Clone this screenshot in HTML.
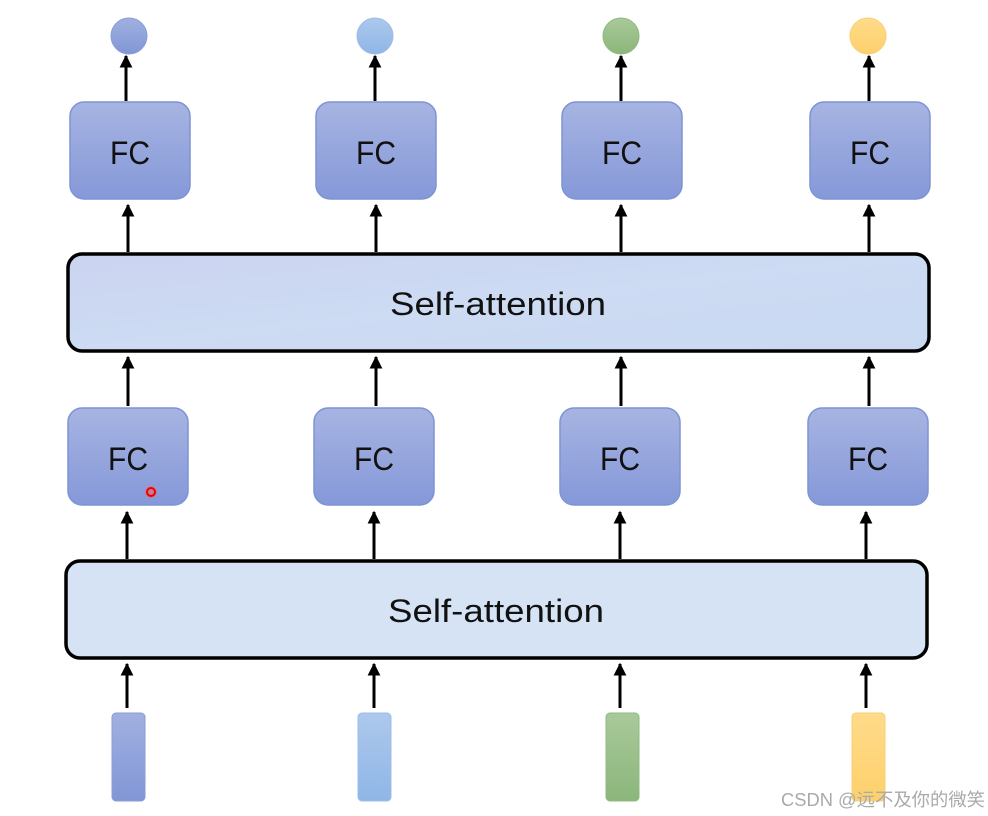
<!DOCTYPE html>
<html><head><meta charset="utf-8"><style>
html,body{margin:0;padding:0;background:#fff;width:988px;height:816px;overflow:hidden}
</style></head><body>
<svg width="988" height="816" viewBox="0 0 988 816" xmlns="http://www.w3.org/2000/svg">
<defs>
<linearGradient id="fc" x1="0" y1="0" x2="0" y2="1"><stop offset="0" stop-color="#a7b4e2"/><stop offset="1" stop-color="#8598d8"/></linearGradient>
<linearGradient id="sa1" x1="0" y1="0" x2="1" y2="1"><stop offset="0" stop-color="#cbd3f0"/><stop offset="0.5" stop-color="#cddbf3"/><stop offset="1" stop-color="#c8d9f1"/></linearGradient>
<linearGradient id="c1" x1="0" y1="0" x2="0" y2="1"><stop offset="0" stop-color="#a1b0e0"/><stop offset="1" stop-color="#8196d6"/></linearGradient>
<linearGradient id="c2" x1="0" y1="0" x2="0" y2="1"><stop offset="0" stop-color="#adc8ec"/><stop offset="1" stop-color="#8fb6e6"/></linearGradient>
<linearGradient id="c3" x1="0" y1="0" x2="0" y2="1"><stop offset="0" stop-color="#a9c99a"/><stop offset="1" stop-color="#8bb67b"/></linearGradient>
<linearGradient id="c4" x1="0" y1="0" x2="0" y2="1"><stop offset="0" stop-color="#ffdb8a"/><stop offset="1" stop-color="#fdd06c"/></linearGradient>
<marker id="ar" viewBox="0 0 10 10" refX="9" refY="5" markerWidth="4.3" markerHeight="4.3" orient="auto"><path d="M0,0 L10,5 L0,10 z" fill="#000"/></marker>
</defs>
<g stroke="#000" stroke-width="3" marker-end="url(#ar)">
<line x1="126" y1="101" x2="126" y2="56"/><line x1="375" y1="101" x2="375" y2="56"/><line x1="621" y1="101" x2="621" y2="56"/><line x1="869" y1="101" x2="869" y2="56"/>
<line x1="128" y1="252" x2="128" y2="205"/><line x1="376" y1="252" x2="376" y2="205"/><line x1="621" y1="252" x2="621" y2="205"/><line x1="869" y1="252" x2="869" y2="205"/>
<line x1="128" y1="406" x2="128" y2="357"/><line x1="376" y1="406" x2="376" y2="357"/><line x1="621" y1="406" x2="621" y2="357"/><line x1="869" y1="406" x2="869" y2="357"/>
<line x1="127" y1="559" x2="127" y2="512"/><line x1="374" y1="559" x2="374" y2="512"/><line x1="620" y1="559" x2="620" y2="512"/><line x1="866" y1="559" x2="866" y2="512"/>
<line x1="127" y1="708" x2="127" y2="664"/><line x1="374" y1="708" x2="374" y2="664"/><line x1="620" y1="708" x2="620" y2="664"/><line x1="866" y1="708" x2="866" y2="664"/>
</g>
<circle cx="129" cy="36" r="18" fill="url(#c1)" stroke="#8a9dd8"/>
<circle cx="375" cy="36" r="18" fill="url(#c2)" stroke="#9dbde8"/>
<circle cx="621" cy="36" r="18" fill="url(#c3)" stroke="#8fb980"/>
<circle cx="868" cy="36" r="18" fill="url(#c4)" stroke="#f9cf70"/>
<g fill="url(#fc)" stroke="#7d93d4" stroke-width="1.5">
<rect x="70" y="102" width="120" height="97" rx="14"/><rect x="316" y="102" width="120" height="97" rx="14"/><rect x="562" y="102" width="120" height="97" rx="14"/><rect x="810" y="102" width="120" height="97" rx="14"/>
<rect x="68" y="408" width="120" height="97" rx="14"/><rect x="314" y="408" width="120" height="97" rx="14"/><rect x="560" y="408" width="120" height="97" rx="14"/><rect x="808" y="408" width="120" height="97" rx="14"/>
</g>
<g font-family="Liberation Sans, sans-serif" font-size="32" fill="#111" text-anchor="middle">
<text x="130" y="164" textLength="40" lengthAdjust="spacingAndGlyphs">FC</text><text x="376" y="164" textLength="40" lengthAdjust="spacingAndGlyphs">FC</text><text x="622" y="164" textLength="40" lengthAdjust="spacingAndGlyphs">FC</text><text x="870" y="164" textLength="40" lengthAdjust="spacingAndGlyphs">FC</text>
<text x="128" y="470" textLength="40" lengthAdjust="spacingAndGlyphs">FC</text><text x="374" y="470" textLength="40" lengthAdjust="spacingAndGlyphs">FC</text><text x="620" y="470" textLength="40" lengthAdjust="spacingAndGlyphs">FC</text><text x="868" y="470" textLength="40" lengthAdjust="spacingAndGlyphs">FC</text>
</g>
<circle cx="151" cy="492" r="6" fill="#ff6060" opacity="0.5"/><circle cx="151" cy="492" r="4" fill="none" stroke="#e00" stroke-width="2"/>
<rect x="68" y="254" width="861" height="97" rx="14" fill="url(#sa1)" stroke="#000" stroke-width="3.5"/>
<rect x="66" y="561" width="861" height="97" rx="14" fill="#d5e3f5" stroke="#000" stroke-width="3.5"/>
<g font-family="Liberation Sans, sans-serif" font-size="32" fill="#111" text-anchor="middle">
<text x="498" y="315" textLength="216" lengthAdjust="spacingAndGlyphs">Self-attention</text>
<text x="496" y="622" textLength="216" lengthAdjust="spacingAndGlyphs">Self-attention</text>
</g>
<rect x="112" y="713" width="33" height="88" rx="4" fill="url(#c1)" stroke="#8a9dd8"/>
<rect x="358" y="713" width="33" height="88" rx="4" fill="url(#c2)" stroke="#9dbde8"/>
<rect x="606" y="713" width="33" height="88" rx="4" fill="url(#c3)" stroke="#8fb980"/>
<rect x="852" y="713" width="33" height="88" rx="4" fill="url(#c4)" stroke="#f9cf70"/>
<text x="781" y="806" font-family="Liberation Sans, Noto Sans CJK SC, sans-serif" font-size="18" fill="#aaa" textLength="204" lengthAdjust="spacingAndGlyphs">CSDN @远不及你的微笑</text>
</svg>
</body></html>
